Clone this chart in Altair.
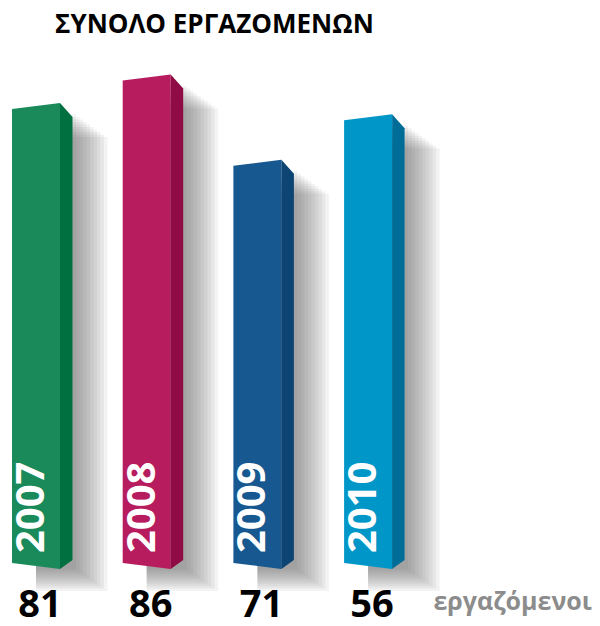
import altair as alt
import pandas as pd

# ---- data ----
years = [2007, 2008, 2009, 2010]
employees = [81, 86, 71, 56]          # printed values
drawn_height = [81, 86, 71, 79]       # bar heights as drawn in the infographic
front_colors = ["#1b8a5a", "#b71c5e", "#16588f", "#0096c8"]
side_colors = ["#007040", "#8e0b46", "#0c4474", "#006d99"]
title_text = "ΣΥΝΟΛΟ ΕΡΓΑΖΟΜΕΝΩΝ"
unit_text = "εργαζόμενοι"

# ---- geometry (style) ----
W, H = 584, 610
PX_X = 110.7             # px per year
PX_Y = 5.68              # px per unit
X0 = 2007 - 28 / PX_X
XDOM = [X0, X0 + W / PX_X]
YMIN = -(H - 558) / PX_Y
YDOM = [YMIN, YMIN + H / PX_Y]
HALF = 24 / PX_X
SIDE = 12.5 / PX_X
sy = lambda px: px / PX_Y

faces = []
keys, rng = [], []
for yr, h, fc, sc in zip(years, drawn_height, front_colors, side_colors):
    kf, ks = f"{yr}f", f"{yr}s"
    keys += [kf, ks]
    rng += [fc, sc]
    faces += [
        dict(key=kf, x=yr - HALF, top=h - sy(3), bot=sy(3)),
        dict(key=kf, x=yr + HALF, top=h + sy(3), bot=-sy(3)),
        dict(key=ks, x=yr + HALF, top=h + sy(3), bot=-sy(3)),
        dict(key=ks, x=yr + HALF + SIDE, top=h + sy(3) - sy(14), bot=sy(6)),
    ]
faces_df = pd.DataFrame(faces)

shadows = []
for yr, h in zip(years, drawn_height):
    for i in range(1, 11):
        shadows.append(dict(
            x=yr, x2=yr + HALF + SIDE + i * 3.5 / PX_X,
            top=h - sy(6 + i * 2.5), bot=-sy(1 + i * 2.4)))
shadow_df = pd.DataFrame(shadows)

lab_df = pd.DataFrame(dict(year=years, value=employees,
                           yl=[str(y) for y in years]))

xs = alt.Scale(domain=XDOM, nice=False, zero=False)
ys = alt.Scale(domain=YDOM, nice=False, zero=False)

shadow = alt.Chart(shadow_df).mark_rect(color="#505050", opacity=0.065).encode(
    x=alt.X("x:Q", scale=xs, axis=None),
    x2="x2:Q",
    y=alt.Y("top:Q", scale=ys, axis=None),
    y2="bot:Q",
)

bars = alt.Chart(faces_df).mark_area(opacity=1).encode(
    x=alt.X("x:Q", scale=xs, axis=None),
    y=alt.Y("top:Q", scale=ys, axis=None, stack=None),
    y2="bot:Q",
    color=alt.Color("key:N", scale=alt.Scale(domain=keys, range=rng), legend=None),
    detail="key:N",
)

year_txt = alt.Chart(lab_df).transform_calculate(
    xx=f"datum.year - {4 / PX_X}", yy=f"{sy(13)}"
).mark_text(angle=270, align="left", baseline="middle", font="Open Sans",
            fontWeight="bold", fontSize=40, color="white").encode(
    x=alt.X("xx:Q", scale=xs, axis=None),
    y=alt.Y("yy:Q", scale=ys, axis=None),
    text="yl:N",
)

val_txt = alt.Chart(lab_df).transform_calculate(
    xx=f"datum.year + {4 / PX_X}", yy=f"{-sy(51)}"
).mark_text(align="center", baseline="alphabetic", font="Open Sans",
            fontWeight="bold", fontSize=38, color="black").encode(
    x=alt.X("xx:Q", scale=xs, axis=None),
    y=alt.Y("yy:Q", scale=ys, axis=None),
    text="value:Q",
)

title = alt.Chart(pd.DataFrame({"t": [title_text]})).mark_text(
    align="left", baseline="middle", font="Open Sans", fontWeight="bold",
    fontSize=26, color="black").encode(
    x=alt.value(47), y=alt.value(17), text="t:N")

unit = alt.Chart(pd.DataFrame({"t": [unit_text]})).mark_text(
    align="right", baseline="alphabetic", font="Open Sans", fontWeight="bold",
    fontSize=25, color="#8c8c8c").encode(
    x=alt.value(584), y=alt.value(602), text="t:N")

chart = alt.layer(shadow, bars, year_txt, val_txt, title, unit).properties(
    width=W, height=H, padding=0, background="white"
).configure_view(stroke=None)

chart.save("out.html", embed_options={"renderer": "svg", "actions": False})
